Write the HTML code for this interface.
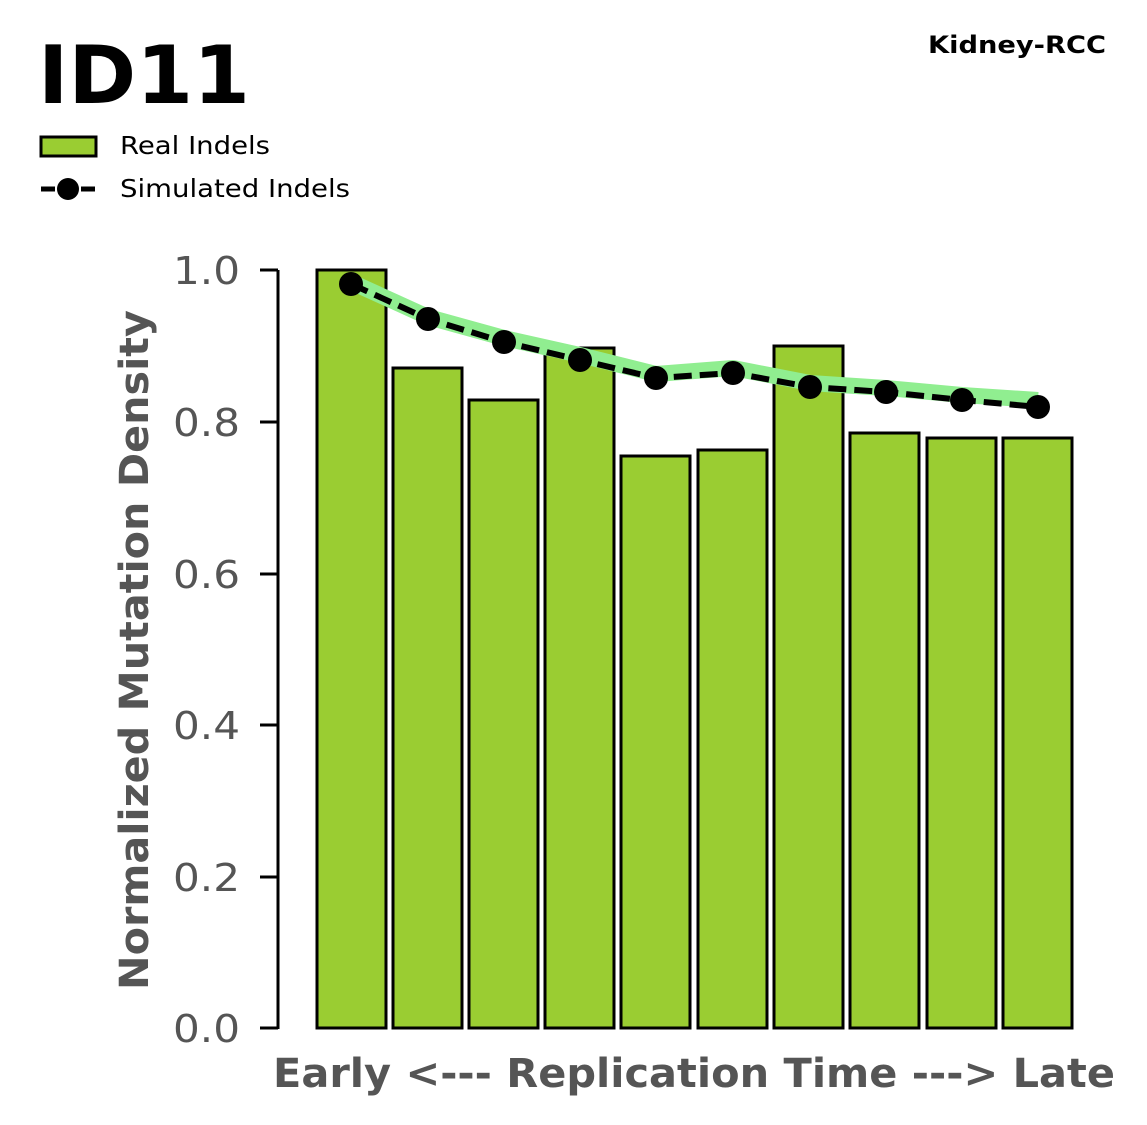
<!DOCTYPE html>
<html><head><style>
html,body{margin:0;padding:0;background:#fff;}
svg{display:block;}
text{font-family:"DejaVu Sans","Liberation Sans",sans-serif;}
</style></head><body>
<svg width="1147" height="1125" viewBox="0 0 1147 1125" xmlns="http://www.w3.org/2000/svg">
<rect width="1147" height="1125" fill="#fff"/>
<text x="38" y="103" font-size="80" font-weight="bold" fill="#000" textLength="212" lengthAdjust="spacingAndGlyphs">ID11</text>
<text x="928" y="53" font-size="24" font-weight="bold" fill="#000" textLength="178" lengthAdjust="spacingAndGlyphs">Kidney-RCC</text>
<rect x="41" y="137" width="55" height="19" fill="#9acd32" stroke="#000" stroke-width="3"/>
<text x="120" y="154" font-size="25" fill="#000" textLength="150" lengthAdjust="spacingAndGlyphs">Real Indels</text>
<line x1="41" y1="189" x2="96" y2="189" stroke="#000" stroke-width="5" stroke-dasharray="14,6"/>
<circle cx="68" cy="189" r="11" fill="#000"/>
<text x="120" y="197" font-size="25" fill="#000" textLength="230" lengthAdjust="spacingAndGlyphs">Simulated Indels</text>
<line x1="278" y1="270" x2="278" y2="1029" stroke="#000" stroke-width="3"/>
<g stroke="#000" stroke-width="3">
<line x1="260" y1="270" x2="278" y2="270"/><line x1="260" y1="422" x2="278" y2="422"/>
<line x1="260" y1="574" x2="278" y2="574"/><line x1="260" y1="725" x2="278" y2="725"/>
<line x1="260" y1="877" x2="278" y2="877"/><line x1="260" y1="1028" x2="278" y2="1028"/>
</g>
<g font-size="38" fill="#555">
<text x="173" y="284" textLength="67" lengthAdjust="spacingAndGlyphs">1.0</text>
<text x="173" y="436" textLength="67" lengthAdjust="spacingAndGlyphs">0.8</text>
<text x="173" y="588" textLength="67" lengthAdjust="spacingAndGlyphs">0.6</text>
<text x="173" y="739" textLength="67" lengthAdjust="spacingAndGlyphs">0.4</text>
<text x="173" y="891" textLength="67" lengthAdjust="spacingAndGlyphs">0.2</text>
<text x="173" y="1042" textLength="67" lengthAdjust="spacingAndGlyphs">0.0</text>
</g>
<text transform="translate(148,990) rotate(-90)" font-size="40" font-weight="bold" fill="#555" textLength="680" lengthAdjust="spacingAndGlyphs">Normalized Mutation Density</text>
<text x="273" y="1087" font-size="40" font-weight="bold" fill="#555" textLength="842" lengthAdjust="spacingAndGlyphs">Early &lt;--- Replication Time ---&gt; Late</text>
<g fill="#9acd32" stroke="#000" stroke-width="3">
<rect x="317" y="270" width="69" height="758"/>
<rect x="393" y="368" width="69" height="660"/>
<rect x="469" y="400" width="69" height="628"/>
<rect x="545" y="348" width="69" height="680"/>
<rect x="621" y="456" width="69" height="572"/>
<rect x="698" y="450" width="69" height="578"/>
<rect x="774" y="346" width="69" height="682"/>
<rect x="850" y="433" width="69" height="595"/>
<rect x="927" y="438" width="69" height="590"/>
<rect x="1003" y="438" width="69" height="590"/>
</g>
<polyline points="351,282 428,317 504,338 580,355 656,374 733,368 810,383 886,388 962,395 1038,400" fill="none" stroke="#90ee90" stroke-width="16" stroke-linejoin="round"/>
<polyline points="351,284 428,319 504,342 580,360 656,378 733,373 810,387 886,392 962,400 1038,407" fill="none" stroke="#000" stroke-width="6" stroke-dasharray="18,8"/>
<g fill="#000">
<circle cx="351" cy="284" r="12"/><circle cx="428" cy="319" r="12"/><circle cx="504" cy="342" r="12"/>
<circle cx="580" cy="360" r="12"/><circle cx="656" cy="378" r="12"/><circle cx="733" cy="373" r="12"/>
<circle cx="810" cy="387" r="12"/><circle cx="886" cy="392" r="12"/><circle cx="962" cy="400" r="12"/>
<circle cx="1038" cy="407" r="12"/>
</g>
</svg>
</body></html>
